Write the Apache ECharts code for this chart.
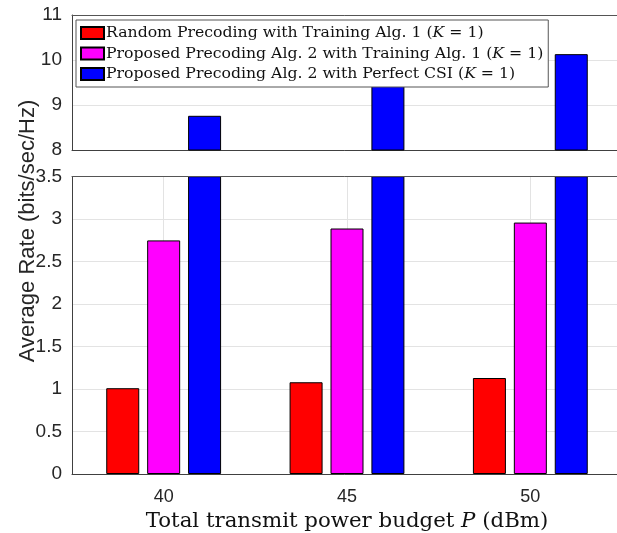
<!DOCTYPE html>
<html>
<head>
<meta charset="utf-8">
<script src="https://cdn.jsdelivr.net/npm/echarts@6/dist/echarts.min.js"></script>
<style>
  html, body { margin: 0; padding: 0; background: #fff; }
  #chart { width: 617px; height: 533px; }
</style>
</head>
<body>
<div id="chart"></div>
<script>
// Transmit power budgets (dBm)
const categories = ['40', '45', '50'];
// Average rate (bits/sec/Hz) for each scheme
const randomTraining = [1.01, 1.08, 1.13];
const proposedTraining = [2.75, 2.89, 2.96];
const proposedPerfect = [8.76, 9.5, 10.13];

// Upper (8..11) and lower (0..3.5) ranges of the broken y axis
const upperRange = [8, 11];
const lowerRange = [0, 3.5];

const seriesNames = [
  'Random Precoding with Training Alg. 1',
  'Proposed Precoding Alg. 2 with Training Alg. 1',
  'Proposed Precoding Alg. 2 with Perfect CSI'
];
const seriesColors = ['#ff0000', '#ff00ff', '#0000ff'];
const seriesData = [randomTraining, proposedTraining, proposedPerfect];

const axisColor = '#404040';
const gridColor = '#e3e3e3';
const labelFont = 'Liberation Sans';
const serifFont = 'DejaVu Serif';

const chart = echarts.init(document.getElementById('chart'));

function barSeries(i, axisIndex, upper) {
  return {
    name: seriesNames[i],
    type: 'bar',
    xAxisIndex: axisIndex,
    yAxisIndex: axisIndex,
    // the upper panel only shows values that reach its range
    data: seriesData[i].map(v => (upper && v < upperRange[0]) ? null : v),
    barWidth: 33,
    barGap: '24%',
    itemStyle: { color: seriesColors[i], borderColor: '#000', borderWidth: 1 },
    emphasis: { disabled: true },
    animation: false
  };
}

const series = [];
for (let i = 0; i < 3; i++) series.push(barSeries(i, 0, true));
for (let i = 0; i < 3; i++) series.push(barSeries(i, 1, false));

const option = {
  backgroundColor: '#fff',
  animation: false,
  grid: [
    { left: 72, top: 15, width: 550, height: 135, outerBoundsMode: 'none', containLabel: false },
    { left: 72, top: 176.7, width: 550, height: 297.3, outerBoundsMode: 'none', containLabel: false }
  ],
  legend: {
    data: seriesNames,
    orient: 'vertical',
    left: 76,
    top: 20,
    padding: [5, 5, 5, 4],
    itemGap: 4.5,
    itemWidth: 23,
    itemHeight: 12,
    backgroundColor: '#fff',
    borderColor: '#555',
    borderWidth: 1,
    icon: 'rect',
    z: 20,
    formatter: name => '{n|' + name + ' (}{i|K}{n| = 1)}',
    textStyle: {
      padding: [0, 0, 0, -3],
      rich: {
        n: { fontFamily: serifFont, fontSize: 15.7, color: '#111' },
        i: { fontFamily: serifFont, fontSize: 15.7, fontStyle: 'italic', color: '#111' }
      }
    }
  },
  xAxis: [
    {
      type: 'category', gridIndex: 0, data: categories,
      axisLine: { lineStyle: { color: axisColor, width: 1 } },
      axisTick: { show: false },
      axisLabel: { show: false },
      splitLine: { show: false }
    },
    {
      type: 'category', gridIndex: 1, data: categories,
      axisLine: { lineStyle: { color: axisColor, width: 1 } },
      axisTick: { show: false, alignWithLabel: true },
      axisLabel: { fontFamily: labelFont, fontSize: 18, color: '#262626', margin: 14 },
      splitLine: { show: true, alignWithLabel: true, lineStyle: { color: gridColor, width: 1 } },
      name: '{n|Total transmit power budget }{i|P}{n| (dBm)}',
      nameLocation: 'middle',
      nameGap: 35,
      nameTextStyle: {
        rich: {
          n: { fontFamily: serifFont, fontSize: 21.3, color: '#111' },
          i: { fontFamily: serifFont, fontSize: 21.3, fontStyle: 'italic', color: '#111' }
        }
      }
    },
    // top borders of the two panels, drawn above the clipped bars
    {
      type: 'category', gridIndex: 0, position: 'top', data: categories, z: 10,
      axisLine: { lineStyle: { color: '#555', width: 1 } },
      axisTick: { show: false }, axisLabel: { show: false }, splitLine: { show: false }
    },
    {
      type: 'category', gridIndex: 1, position: 'top', data: categories, z: 10,
      axisLine: { lineStyle: { color: '#555', width: 1 } },
      axisTick: { show: false }, axisLabel: { show: false }, splitLine: { show: false }
    }
  ],
  yAxis: [
    {
      type: 'value', gridIndex: 0, min: upperRange[0], max: upperRange[1], interval: 1,
      axisLine: { show: true, lineStyle: { color: axisColor, width: 1 } },
      axisTick: { show: false },
      axisLabel: { fontFamily: labelFont, fontSize: 19, color: '#262626', margin: 10 },
      splitLine: { show: true, lineStyle: { color: gridColor, width: 1 } }
    },
    {
      type: 'value', gridIndex: 1, min: lowerRange[0], max: lowerRange[1], interval: 0.5,
      axisLine: { show: true, lineStyle: { color: axisColor, width: 1 } },
      axisTick: { show: false },
      axisLabel: { fontFamily: labelFont, fontSize: 19, color: '#262626', margin: 10 },
      splitLine: { show: true, lineStyle: { color: gridColor, width: 1 } }
    }
  ],
  graphic: [
    {
      type: 'text',
      x: 28, y: 231,
      rotation: Math.PI / 2,
      style: {
        text: 'Average Rate (bits/sec/Hz)',
        font: '22px "Liberation Sans"',
        fill: '#262626',
        align: 'center',
        verticalAlign: 'middle'
      }
    }
  ],
  series: series
};

chart.setOption(option);
</script>
</body>
</html>
